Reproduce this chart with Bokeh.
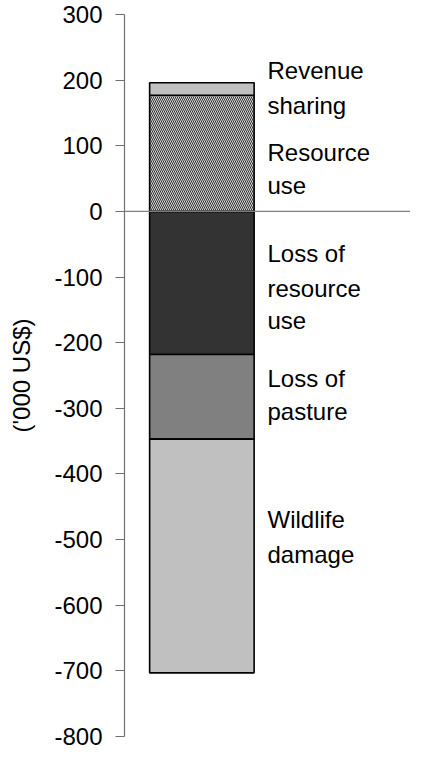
from bokeh.plotting import figure
from bokeh.models import Range1d, FixedTicker, Span, ColumnDataSource, CustomJSTickFormatter
from bokeh.core.properties import value
from bokeh.embed import file_html
from bokeh.resources import INLINE

# ---- data ----
segments = ["Loss of resource use", "Loss of pasture", "Wildlife damage",
            "Resource use", "Revenue sharing"]
amounts = [-218, -129, -356, 177, 19]          # '000 US$
label_lines = [["Loss of", "resource", "use"], ["Loss of", "pasture"],
               ["Wildlife", "damage"], ["Resource", "use"], ["Revenue", "sharing"]]
# baseline of each label line in data units
label_line_y = [[-64, -117, -166], [-254, -305], [-470, -522],
                [90, 39], [214, 162]]
y_ticks = [300, 200, 100, 0, -100, -200, -300, -400, -500, -600, -700, -800]
y_label = "('000 US$)"

# ---- styles ----
fills = ["#333333", "#808080", "#c0c0c0", "#d4d4d4", "#c0c0c0"]
hatches = [" ", " ", " ", "\\", " "]

# stack
tops, bottoms = [], []
pos, neg = 0, 0
for a in amounts:
    if a >= 0:
        bottoms.append(pos); pos += a; tops.append(pos)
    else:
        tops.append(neg); neg += a; bottoms.append(neg)

FONT = value("Liberation Sans")
FS = "24px"

p = figure(width=405, height=750, output_backend="svg", toolbar_location=None,
           x_range=Range1d(0, 292), y_range=Range1d(-800, 300),
           x_axis_type=None, min_border_left=0, min_border_right=0,
           min_border_top=14, min_border_bottom=14)
p.margin = (0, 0, 0, 5)
p.outline_line_color = None
p.grid.visible = False
p.background_fill_color = "white"
p.border_fill_color = "white"

BAR_X = 79
BAR_W = 106.7

src = ColumnDataSource(dict(x=[BAR_X] * len(amounts), top=tops, bottom=bottoms,
                            fill=fills, hatch=hatches, name=segments))
p.vbar(x="x", top="top", bottom="bottom", width=BAR_W, source=src,
       fill_color="fill", line_color="black", line_width=1.6,
       hatch_pattern="hatch", hatch_color="#333333", hatch_scale=4,
       hatch_weight=1.0)

p.add_layout(Span(location=0, dimension="width", line_color="#808080", line_width=1.2))

xs, ys, ts = [], [], []
for lines, yl in zip(label_lines, label_line_y):
    for t, yy in zip(lines, yl):
        xs.append(146); ys.append(yy); ts.append(t)
p.text(x=xs, y=ys, text=ts, text_font=FONT, text_font_size=value(FS),
       text_baseline="alphabetic", text_align="left", text_color="black")

ax = p.yaxis[0]
ax.ticker = FixedTicker(ticks=y_ticks)
ax.formatter = CustomJSTickFormatter(code="return tick.toFixed(0);")
ax.axis_label = y_label
ax.axis_label_text_font = "Liberation Sans"
ax.axis_label_text_font_size = FS
ax.axis_label_text_font_style = "normal"
ax.axis_label_text_color = "black"
ax.axis_label_standoff = 16
ax.major_label_text_font = "Liberation Sans"
ax.major_label_text_font_size = FS
ax.major_label_text_color = "black"
ax.major_label_standoff = 13
ax.major_tick_out = 9
ax.major_tick_in = 0
ax.minor_tick_out = 0
ax.minor_tick_in = 0
ax.axis_line_color = "#707070"
ax.axis_line_width = 1.2
ax.major_tick_line_color = "#707070"
ax.major_tick_line_width = 1.2

open("out.html", "w").write(file_html(p, INLINE))
